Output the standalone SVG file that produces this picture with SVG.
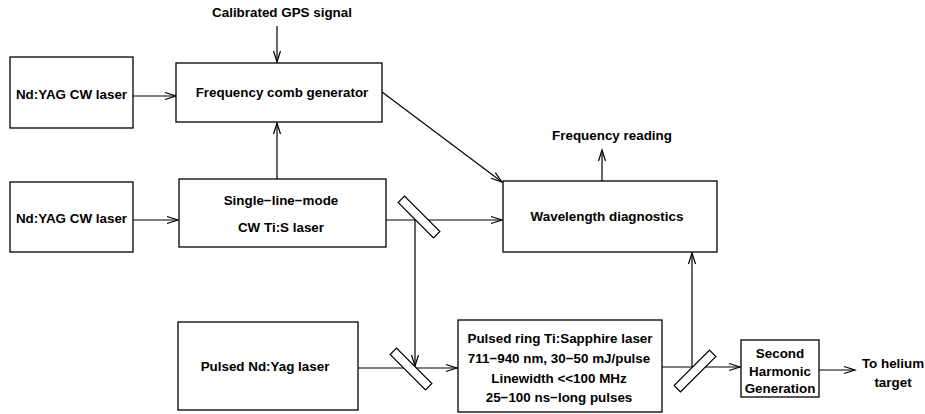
<svg xmlns="http://www.w3.org/2000/svg" width="925" height="414" viewBox="0 0 925 414">
<style>
.box{fill:#fff;stroke:#000;stroke-width:1.3}
.ln{fill:none;stroke:#000;stroke-width:1.2}
.mir{fill:#fff;stroke:#000;stroke-width:1.2}
text{font-family:"Liberation Sans",Arial,sans-serif;font-weight:bold;font-size:13.4px;text-anchor:middle;fill:#000}
</style>
<defs>
<marker id="arr" markerUnits="userSpaceOnUse" markerWidth="14" markerHeight="10" refX="12" refY="5" orient="auto">
<path d="M1,1.5 L12,5 L1,8.5" fill="none" stroke="#000" stroke-width="1.2"/>
</marker>
</defs>
<rect width="925" height="414" fill="#fff"/>
<g id="connectors">
<line class="ln" x1="277" y1="26" x2="277" y2="62" marker-end="url(#arr)"/>
<line class="ln" x1="133" y1="96" x2="176" y2="96" marker-end="url(#arr)"/>
<line class="ln" x1="277" y1="179" x2="277" y2="123" marker-end="url(#arr)"/>
<line class="ln" x1="133" y1="220" x2="178" y2="220" marker-end="url(#arr)"/>
<line class="ln" x1="382" y1="92" x2="502" y2="182" marker-end="url(#arr)"/>
<line class="ln" x1="386" y1="220" x2="502" y2="220" marker-end="url(#arr)"/>
<line class="ln" x1="415" y1="220" x2="415" y2="366" marker-end="url(#arr)"/>
<line class="ln" x1="602" y1="181" x2="602" y2="150" marker-end="url(#arr)"/>
<line class="ln" x1="358" y1="368" x2="457" y2="368" marker-end="url(#arr)"/>
<line class="ln" x1="662" y1="367" x2="740" y2="367" marker-end="url(#arr)"/>
<line class="ln" x1="692" y1="367" x2="692" y2="253" marker-end="url(#arr)"/>
<line class="ln" x1="819" y1="370" x2="855" y2="370" marker-end="url(#arr)"/>
</g>
<g id="mirror1"><rect class="mir" x="394" y="212.5" width="50" height="9" transform="rotate(45 419 217)"/></g>
<g id="mirror2"><rect class="mir" x="386" y="364.5" width="50" height="9" transform="rotate(45 411 369)"/></g>
<g id="mirror3"><rect class="mir" x="670" y="366.5" width="50" height="9" transform="rotate(-45 695 371)"/></g>
<g id="gps"><text x="282" y="17">Calibrated GPS signal</text></g>
<g id="yag1"><rect class="box" x="10" y="57" width="123" height="71"/><text x="71.5" y="99">Nd:YAG CW laser</text></g>
<g id="comb"><rect class="box" x="176" y="63" width="206" height="59"/><text x="282" y="97">Frequency comb generator</text></g>
<g id="yag2"><rect class="box" x="10" y="182" width="123" height="70"/><text x="71.5" y="223">Nd:YAG CW laser</text></g>
<g id="tis"><rect class="box" x="179" y="179" width="207" height="68"/><text x="281" y="205">Single−line−mode</text><text x="281" y="232">CW Ti:S laser</text></g>
<g id="freqread"><text x="612" y="140">Frequency reading</text></g>
<g id="wavediag"><rect class="box" x="503" y="181" width="214" height="71"/><text x="607" y="221">Wavelength diagnostics</text></g>
<g id="pulsedyag"><rect class="box" x="178" y="322" width="180" height="88"/><text x="265" y="371">Pulsed Nd:Yag laser</text></g>
<g id="ring"><rect class="box" x="458" y="320" width="204" height="92"/>
<text x="560" y="343">Pulsed ring Ti:Sapphire laser</text>
<text x="559" y="363">711−940 nm, 30−50 mJ/pulse</text>
<text x="559" y="383">Linewidth &lt;&lt;100 MHz</text>
<text x="559" y="402">25−100 ns−long pulses</text></g>
<g id="shg"><rect class="box" x="741" y="340" width="78" height="57"/>
<text x="780" y="358">Second</text><text x="780" y="376">Harmonic</text><text x="780" y="393">Generation</text></g>
<g id="target"><text x="893" y="368">To helium</text><text x="893" y="387">target</text></g>
</svg>
